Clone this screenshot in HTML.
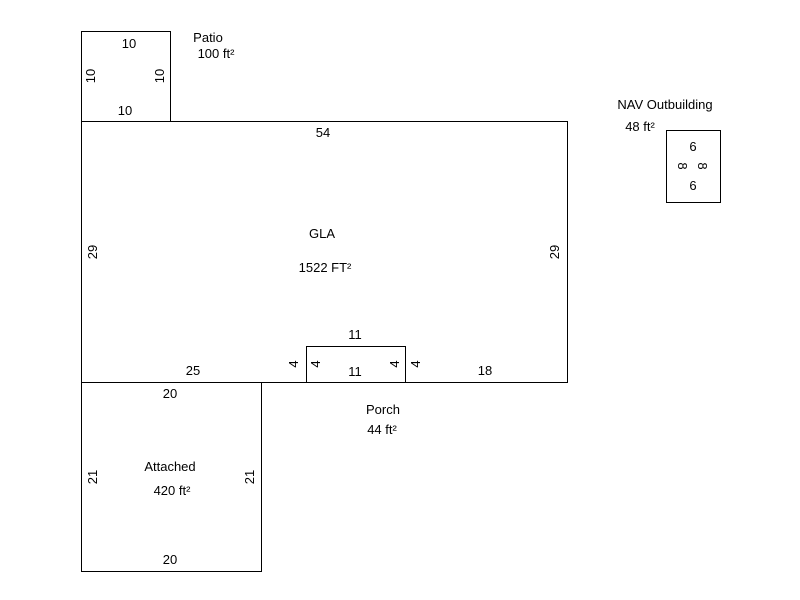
<!DOCTYPE html>
<html><head><style>body{margin:0;background:#fff}svg{display:block}text{font-family:"Liberation Sans","DejaVu Sans",sans-serif;font-size:13px;fill:#000}</style></head><body>
<svg width="800" height="600" xmlns="http://www.w3.org/2000/svg">
<g fill="none" stroke="#000" stroke-width="1">
<rect x="81.5" y="31.5" width="89" height="90"/>
<rect x="81.5" y="121.5" width="486" height="261"/>
<rect x="306.5" y="346.5" width="99" height="36"/>
<rect x="81.5" y="382.5" width="180" height="189"/>
<rect x="666.5" y="130.5" width="54" height="72"/>
</g>
<g text-anchor="middle">
<text x="129" y="48">10</text>
<text x="125" y="115">10</text>
<text transform="translate(95,76) rotate(-90)">10</text>
<text transform="translate(164,76) rotate(-90)">10</text>
<text x="208" y="42">Patio</text>
<text x="216" y="58">100 ft²</text>
<text x="323" y="137">54</text>
<text transform="translate(97,252) rotate(-90)">29</text>
<text transform="translate(559,252) rotate(-90)">29</text>
<text x="322" y="238">GLA</text>
<text x="325" y="272">1522 FT²</text>
<text x="355" y="339">11</text>
<text x="355" y="376">11</text>
<text transform="translate(298,364) rotate(-90)">4</text>
<text transform="translate(320,364) rotate(-90)">4</text>
<text transform="translate(399,364) rotate(-90)">4</text>
<text transform="translate(420,364) rotate(-90)">4</text>
<text x="193" y="375">25</text>
<text x="485" y="375">18</text>
<text x="383" y="414">Porch</text>
<text x="382" y="434">44 ft²</text>
<text x="170" y="398">20</text>
<text x="170" y="564">20</text>
<text transform="translate(97,477) rotate(-90)">21</text>
<text transform="translate(254,477) rotate(-90)">21</text>
<text x="170" y="471">Attached</text>
<text x="172" y="495">420 ft²</text>
<text x="665" y="109">NAV Outbuilding</text>
<text x="640" y="131">48 ft²</text>
<text x="693" y="151">6</text>
<text x="693" y="190">6</text>
<text transform="translate(678,166) rotate(90)">8</text>
<text transform="translate(698,166) rotate(90)">8</text>
</g>
</svg>
</body></html>
